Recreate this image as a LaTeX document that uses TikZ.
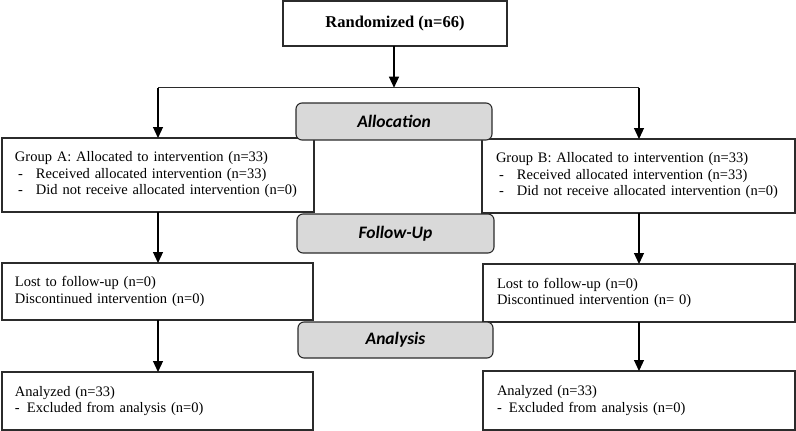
\documentclass[tikz,border=0pt]{standalone}
\usepackage{fontspec}
\setmainfont{Liberation Serif}
\newfontfamily\phasefont{Carlito}
\usetikzlibrary{arrows.meta}
\definecolor{edgecol}{HTML}{2B2B2B}
\definecolor{phasefill}{HTML}{D9D9D9}
\newcommand{\bul}{\makebox[21pt][l]{\hspace{3pt}-}}
\newcommand{\bulb}{\makebox[12pt][l]{-}}
\begin{document}
\begin{tikzpicture}[x=1pt,y=-1pt,
  every node/.style={outer sep=0pt},
  infobox/.style={draw=edgecol, line width=1.1pt, fill=white, rectangle,
    inner ysep=0pt, align=left, font=\fontsize{14.5}{16.5}\selectfont},
  topbox/.style={draw=edgecol, line width=1.1pt, fill=white, rectangle,
    inner sep=0pt, align=center, font=\fontsize{16.5}{19}\selectfont\bfseries},
  phase/.style={draw=edgecol, line width=1.1pt, fill=phasefill, rectangle,
    rounded corners=6pt, inner sep=0pt,
    font=\phasefont\fontsize{17.5}{20}\selectfont\bfseries\itshape},
  arr/.style={draw=black, line width=1.2pt, -{Triangle[length=11pt,width=10pt]}},
  conn/.style={draw=edgecol, line width=1.1pt}]
\useasboundingbox (0,0) rectangle (796,431);

\node[topbox, minimum width=224pt, minimum height=45pt] (rand) at (395,23.5) {Randomized (n=66)};

\node[infobox, inner xsep=13pt, text width=286pt, minimum height=74pt] (gA) at (158,175)
  {Group A: Allocated to intervention (n=33)\\
   \bul Received allocated intervention (n=33)\\
   \mbox{\bul Did not receive allocated intervention (n=0)}};
\node[infobox, inner xsep=14pt, text width=285pt, minimum height=74pt] (gB) at (638.5,176)
  {Group B: Allocated to intervention (n=33)\\
   \bul Received allocated intervention (n=33)\\
   \mbox{\bul Did not receive allocated intervention (n=0)}};

\node[infobox, inner xsep=13pt, text width=285pt, minimum height=57pt] (lA) at (157.5,291.5)
  {Lost to follow-up (n=0)\\
   Discontinued intervention (n=0)};
\node[infobox, inner xsep=14pt, text width=284pt, minimum height=58pt] (lB) at (639,293)
  {Lost to follow-up (n=0)\\
   Discontinued intervention (n= 0)};

\node[infobox, inner xsep=13pt, text width=285pt, minimum height=58pt] (aA) at (157.5,401)
  {Analyzed (n=33)\\
   \bulb Excluded from analysis (n=0)};
\node[infobox, inner xsep=14pt, text width=284pt, minimum height=59pt] (aB) at (639,400.5)
  {Analyzed (n=33)\\
   \bulb Excluded from analysis (n=0)};

\coordinate (split) at (394,87.7);
\coordinate (colA) at (158,0);
\coordinate (colB) at (639,0);
\draw[arr] (rand.south -| split) -- (split);
\draw[conn] (split -| colA) -- (split -| colB);
\draw[arr] (split -| colA) -- (gA.north -| colA);
\draw[arr] (split -| colB) -- (gB.north -| colB);
\draw[arr] (gA.south -| colA) -- (lA.north -| colA);
\draw[arr] (gB.south -| colB) -- (lB.north -| colB);
\draw[arr] (lA.south -| colA) -- (aA.north -| colA);
\draw[arr] (lB.south -| colB) -- (aB.north -| colB);

\node[phase, minimum width=196pt, minimum height=37pt] (alloc) at (394,121.5) {Allocation};
\node[phase, minimum width=197pt, minimum height=39pt] (fup) at (395.5,233.5) {Follow-Up};
\node[phase, minimum width=195pt, minimum height=36pt] (anal) at (395.5,340) {Analysis};
\end{tikzpicture}
\end{document}
